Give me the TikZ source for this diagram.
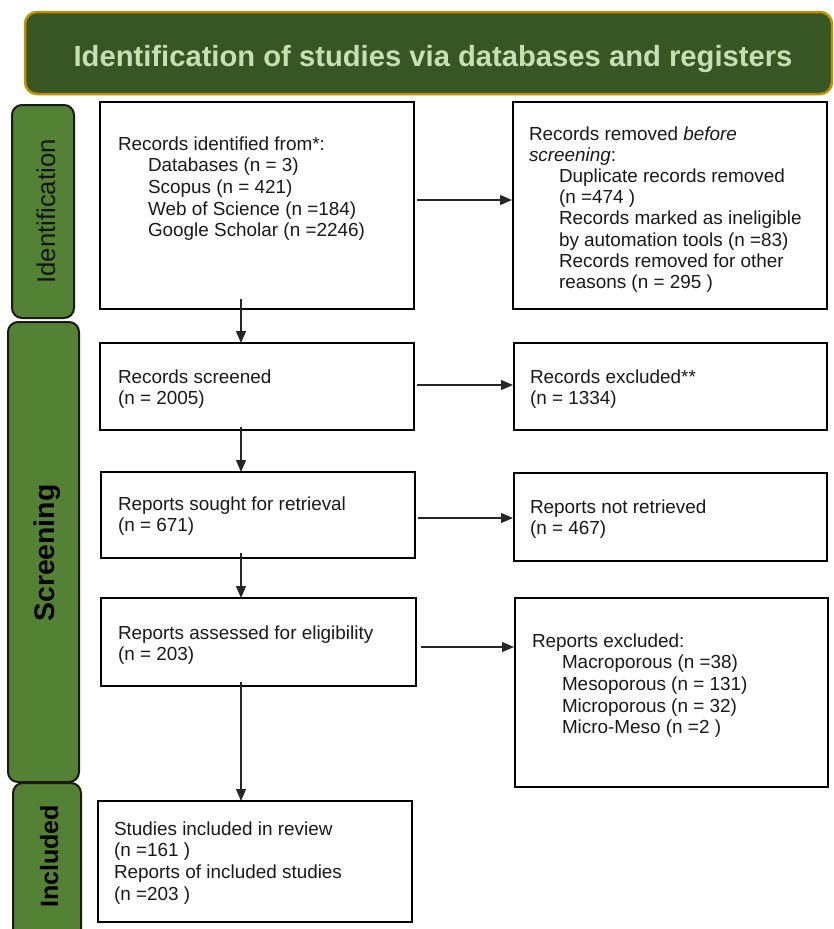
\documentclass[tikz,border=0pt]{standalone}
\usepackage{fontspec}
\setmainfont{Liberation Sans}
\usetikzlibrary{arrows.meta,calc}
\definecolor{hdrfill}{HTML}{375623}
\definecolor{hdrline}{HTML}{BF9000}
\definecolor{sidefill}{HTML}{548235}
\definecolor{titletext}{HTML}{C5E0B4}
\newcommand\fl{\rule{0pt}{14pt}}
\newcommand\ind{\hspace*{30pt}}
\begin{document}
\begin{tikzpicture}[x=1pt,y=-1pt,
  box/.style={draw=black,line width=1.8pt,inner sep=0pt,outer sep=0pt},
  sidebox/.style={draw=black!90,fill=sidefill,line width=2pt,rounded corners=10pt,inner sep=0pt,outer sep=0pt},
  txt/.style={anchor=north west,inner sep=0pt,outer sep=0pt,align=left,font=\fontsize{18.9}{21.7}\selectfont,text=black!90},
  arr/.style={-{Triangle[length=12pt,width=10pt]},line width=1.1pt,draw=black!85}
]
\useasboundingbox (0,0) rectangle (833,929);
\clip (0,0) rectangle (833,929);
\fill[white] (0,0) rectangle (833,929);

% header
\node[draw=hdrline,fill=hdrfill,line width=2.5pt,rounded corners=12pt,minimum width=807pt,minimum height=82pt,inner sep=0pt] (H) at (428.5,53) {};
\node[anchor=base,inner sep=0pt,text=titletext,font=\bfseries\fontsize{29.2}{34}\selectfont] (HT) at (433,66) {Identification of studies via databases and registers};

% side boxes
\node[sidebox,minimum width=62pt,minimum height=213pt] (SI) at (43,211.5) {};
\node[sidebox,minimum width=71pt,minimum height=460pt] (SS) at (43.5,552) {};
\node[sidebox,minimum width=68pt,minimum height=162pt] (SN) at (47,864) {};
\node[rotate=90,anchor=base,inner sep=0pt,text=black!92,font=\fontsize{25.7}{30}\selectfont] (SIT) at (55,211.5) {Identification};
\node[rotate=90,anchor=base,inner sep=0pt,text=black,font=\bfseries\fontsize{28.3}{33}\selectfont] (SST) at (54,553) {Screening};
\node[rotate=90,anchor=base,inner sep=0pt,text=black,font=\bfseries\fontsize{25}{30}\selectfont] (SNT) at (58,856.5) {Included};

% boxes
\node[box,minimum width=314pt,minimum height=207pt] (B1) at (257,205.5) {};
\node[box,minimum width=314pt,minimum height=207pt] (B2) at (670,205.5) {};
\node[box,minimum width=314pt,minimum height=87pt] (B3) at (257,386.5) {};
\node[box,minimum width=313pt,minimum height=87pt] (B3r) at (670.5,386.5) {};
\node[box,minimum width=314pt,minimum height=86pt] (B4) at (258,515) {};
\node[box,minimum width=313pt,minimum height=88pt] (B4r) at (670.5,517) {};
\node[box,minimum width=315pt,minimum height=88pt] (B5) at (258.5,642) {};
\node[box,minimum width=313pt,minimum height=189pt] (B7) at (671.5,692.5) {};
\node[box,minimum width=314pt,minimum height=121pt] (B6) at (255,861.5) {};

% texts
\node[txt] (T1) at (118,136) {\fl Records identified from*:\\
\ind Databases (n = 3)\\
\ind Scopus (n = 421)\\
\ind Web of Science (n =184)\\
\ind Google Scholar (n =2246)};
\node[txt,font=\fontsize{18.9}{21.2}\selectfont] (T2) at (529,126) {\fl Records removed \textit{before}\\
\textit{screening}:\\
\ind Duplicate records removed\\
\ind (n =474 )\\
\ind Records marked as ineligible\\
\ind by automation tools (n =83)\\
\ind Records removed for other\\
\ind reasons (n = 295 )};
\node[txt] (T3) at (118,369) {\fl Records screened\\ (n = 2005)};
\node[txt] (T3r) at (530,369) {\fl Records excluded**\\ (n = 1334)};
\node[txt] (T4) at (118,496) {\fl Reports sought for retrieval\\ (n = 671)};
\node[txt] (T4r) at (530,499) {\fl Reports not retrieved\\ (n = 467)};
\node[txt] (T5) at (118,625) {\fl Reports assessed for eligibility\\ (n = 203)};
\node[txt] (T7) at (532,633) {\fl Reports excluded:\\
\ind Macroporous (n =38)\\
\ind Mesoporous (n = 131)\\
\ind Microporous (n = 32)\\
\ind Micro-Meso (n =2 )};
\node[txt] (T6) at (114,821) {\fl Studies included in review\\
(n =161 )\\
Reports of included studies\\
(n =203 )};

% connectors
\coordinate (vx) at (241,0);
\draw[arr] ($(B1.south -| vx)+(0,-10)$) -- (B3.north -| vx);
\draw[arr] ($(B3.south -| vx)+(0,-3)$) -- (B4.north -| vx);
\draw[arr] ($(B4.south -| vx)+(0,-5)$) -- (B5.north -| vx);
\draw[arr] ($(B5.south -| vx)+(0,-4)$) -- (B6.north -| vx);
\draw[arr] ($(B1.east)+(3,-5.5)$) -- ($(B2.west)+(-1,-5.5)$);
\draw[arr] ($(B3.east)+(3,-1.5)$) -- ($(B3r.west)+(-1,-1.5)$);
\draw[arr] ($(B4.east)+(3,3)$) -- ($(B4r.west)+(-1,1)$);
\draw[arr] ($(B5.east)+(5,5)$) -- ($(B7.west)+(-1,-45.5)$);
\end{tikzpicture}
\end{document}
